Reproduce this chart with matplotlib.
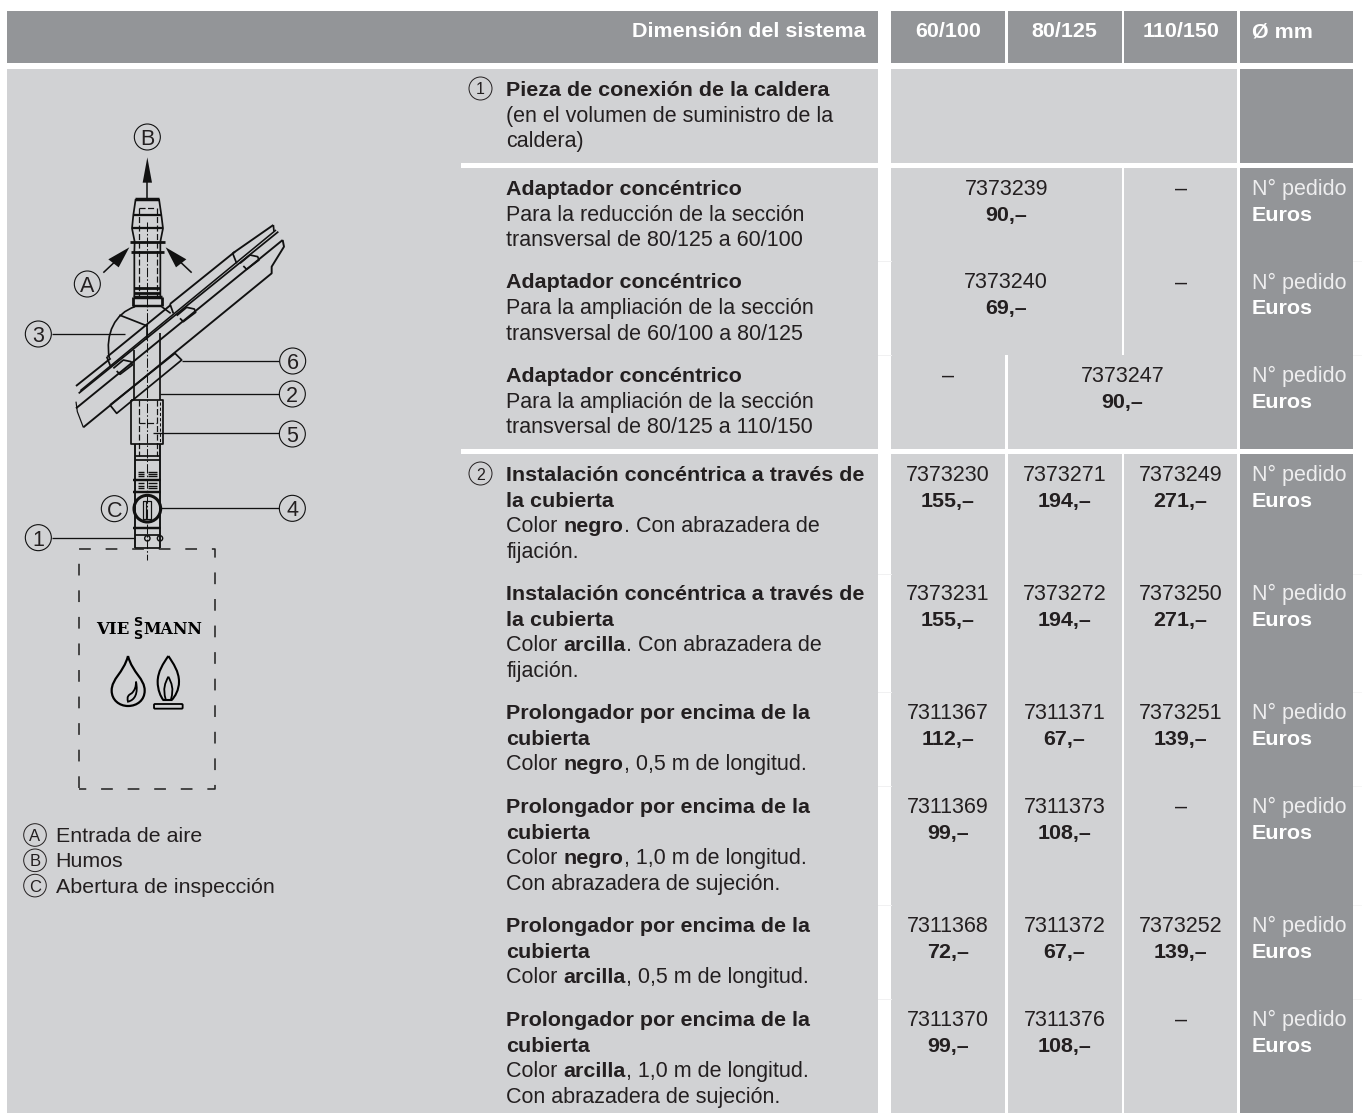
import re
import numpy as np
import matplotlib
matplotlib.use("Agg")
import matplotlib.pyplot as plt
from matplotlib.patches import Rectangle, Circle, PathPatch, Polygon, FancyBboxPatch
from matplotlib.path import Path

LIGHT = "#d1d2d4"
DARK = "#939598"
INK = "#231f20"
W, H = 1362, 1113

# ---------- table content ----------
header_title = "Dimensión del sistema"
header_cols = ["60/100", "80/125", "110/150"]
header_unit = "Ø mm"
unit_line1 = "N° pedido"
unit_line2 = "Euros"

descriptions = [
    ["**Pieza de conexión de la caldera**", "(en el volumen de suministro de la", "caldera)"],
    ["**Adaptador concéntrico**", "Para la reducción de la sección", "transversal de 80/125 a 60/100"],
    ["**Adaptador concéntrico**", "Para la ampliación de la sección", "transversal de 60/100 a 80/125"],
    ["**Adaptador concéntrico**", "Para la ampliación de la sección", "transversal de 80/125 a 110/150"],
    ["**Instalación concéntrica a través de**", "**la cubierta**", "Color **negro**. Con abrazadera de", "fijación."],
    ["**Instalación concéntrica a través de**", "**la cubierta**", "Color **arcilla**. Con abrazadera de", "fijación."],
    ["**Prolongador por encima de la**", "**cubierta**", "Color **negro**, 0,5 m de longitud."],
    ["**Prolongador por encima de la**", "**cubierta**", "Color **negro**, 1,0 m de longitud.", "Con abrazadera de sujeción."],
    ["**Prolongador por encima de la**", "**cubierta**", "Color **arcilla**, 0,5 m de longitud."],
    ["**Prolongador por encima de la**", "**cubierta**", "Color **arcilla**, 1,0 m de longitud.", "Con abrazadera de sujeción."],
]
row_baselines = [96, 195, 288.5, 382, 481, 600, 719, 813, 932, 1026]
row_markers = {0: "1", 4: "2"}

# (code, price, column span start, span length)
row_cells = [
    [],
    [("7373239", "90,–", 0, 2), ("–", "", 2, 1)],
    [("7373240", "69,–", 0, 2), ("–", "", 2, 1)],
    [("–", "", 0, 1), ("7373247", "90,–", 1, 2)],
    [("7373230", "155,–", 0, 1), ("7373271", "194,–", 1, 1), ("7373249", "271,–", 2, 1)],
    [("7373231", "155,–", 0, 1), ("7373272", "194,–", 1, 1), ("7373250", "271,–", 2, 1)],
    [("7311367", "112,–", 0, 1), ("7311371", "67,–", 1, 1), ("7373251", "139,–", 2, 1)],
    [("7311369", "99,–", 0, 1), ("7311373", "108,–", 1, 1), ("–", "", 2, 1)],
    [("7311368", "72,–", 0, 1), ("7311372", "67,–", 1, 1), ("7373252", "139,–", 2, 1)],
    [("7311370", "99,–", 0, 1), ("7311376", "108,–", 1, 1), ("–", "", 2, 1)],
]

legend_letters = ["A", "B", "C"]
legend_texts = ["Entrada de aire", "Humos", "Abertura de inspección"]

# ---------- layout ----------
FONT = "Liberation Sans"
FS = 15.5
BOLD_FS = 15.45
HEAD_FS = 15.45
LEG_FS = 15.4
LH = 25.6
LW = 1.25
col_edges = [(891, 1005), (1007.5, 1121.5), (1124, 1237.3)]
unit_col = (1240, 1353)
text_x = 506.5
unit_x = 1251.5

fig = plt.figure(figsize=(W / 100, H / 100), dpi=100, facecolor="white")
ax = fig.add_axes([0, 0, 1, 1])
ax.set_xlim(0, W)
ax.set_ylim(H, 0)
ax.axis("off")
rend = fig.canvas.get_renderer()


def rect(x0, y0, x1, y1, c, z=1):
    ax.add_patch(Rectangle((x0, y0), x1 - x0, y1 - y0, fc=c, ec="none", zorder=z))


def measure(s, weight, fs):
    a = ax.text(0, 0, "|" + s + "|", family=FONT, fontsize=fs, weight=weight)
    b = ax.text(0, 0, "||", family=FONT, fontsize=fs, weight=weight)
    w = a.get_window_extent(rend).width - b.get_window_extent(rend).width
    a.remove()
    b.remove()
    return w


def rich(x, y, s):
    for i, part in enumerate(re.split(r"\*\*", s)):
        if not part:
            continue
        wt = "bold" if i % 2 else "normal"
        fs = BOLD_FS if i % 2 else FS
        ax.text(x, y, part, family=FONT, fontsize=fs, weight=wt,
                color=INK, va="baseline", ha="left", zorder=5)
        x += measure(part, wt, fs)


# backgrounds
rect(7, 10.5, 877.5, 63, DARK)
for a, b in col_edges + [unit_col]:
    rect(a, 10.5, b, 63, DARK)
rect(7, 69, 461, 1113, LIGHT)
for y0, y1 in [(69, 162.5), (167.5, 449), (454, 1113)]:
    rect(461, y0, 877.5, y1, LIGHT)
    rect(891, y0, 1237.3, y1, LIGHT)
    rect(unit_col[0], y0, unit_col[1], y1, DARK)
# column separators
rect(1005, 454, 1007.5, 1113, "white", 2)
rect(1121.5, 454, 1124, 1113, "white", 2)
rect(1121.5, 167.5, 1124, 355, "white", 2)
rect(1005, 355, 1007.5, 449, "white", 2)
# faint guide lines in the gaps
for yy in [261, 355, 574, 692, 786, 905, 999]:
    ax.plot([877.5, 891], [yy, yy], color="#f1f1f2", lw=0.7, zorder=1)
    ax.plot([1353, 1362], [yy, yy], color="#f6f6f6", lw=0.7, zorder=1)

# header
ax.text(866, 37, header_title, family=FONT, fontsize=HEAD_FS, weight="bold", color="white",
        ha="right", va="baseline", zorder=5)
for (a, b), lab in zip(col_edges, header_cols):
    ax.text((a + b) / 2, 37, lab, family=FONT, fontsize=HEAD_FS, weight="bold", color="white",
            ha="center", va="baseline", zorder=5)
ax.text(unit_x, 37, header_unit, family=FONT, fontsize=HEAD_FS, weight="bold", color="white",
        ha="left", va="baseline", zorder=5)

# rows
for i, (desc, base, cells) in enumerate(zip(descriptions, row_baselines, row_cells)):
    for j, line in enumerate(desc):
        rich(text_x, base + j * LH, line)
    if i in row_markers:
        ax.add_patch(Circle((480.5, base - 7.5), 11.5, fc="none", ec=INK, lw=0.7, zorder=5))
        ax.text(480.5, base - 7.5, row_markers[i], family=FONT, fontsize=11.5, color=INK,
                ha="center", va="center_baseline", zorder=6)
    for code, price, start, span in cells:
        cx = (col_edges[start][0] + col_edges[start + span - 1][1]) / 2
        ax.text(cx, base, code, family=FONT, fontsize=FS, color=INK, ha="center", va="baseline", zorder=5)
        if price:
            ax.text(cx, base + LH, price, family=FONT, fontsize=BOLD_FS, weight="bold", color=INK,
                    ha="center", va="baseline", zorder=5)
    if i > 0:
        ax.text(unit_x, base, unit_line1, family=FONT, fontsize=FS, color="#eeeeef", va="baseline", zorder=5)
        ax.text(unit_x, base + LH, unit_line2, family=FONT, fontsize=BOLD_FS, weight="bold", color="white",
                va="baseline", zorder=5)

# legend
for k, (l, t) in enumerate(zip(legend_letters, legend_texts)):
    yc = 835 + k * 25.3
    ax.add_patch(Circle((35, yc), 11.3, fc="none", ec=INK, lw=0.7, zorder=5))
    ax.text(35, yc, l, family=FONT, fontsize=12, color=INK, ha="center", va="center_baseline", zorder=6)
    ax.text(55.5, yc + 7, t, family=FONT, fontsize=LEG_FS, color=INK, va="baseline", zorder=5)


# ---------- flue drawing (zoomed-crop coordinates -> page) ----------
def z1(p):
    return (p[0] / 3, 100 + p[1] / 3)


def z2(p):
    return (p[0] / 3, 530 + p[1] / 3)


def poly(pts, lw=1.0, ls="-", f=z1, c="#111111", zo=6):
    q = np.array([f(p) for p in pts])
    ax.plot(q[:, 0], q[:, 1], color=c, lw=lw * LW, ls=ls, zorder=zo, solid_capstyle="butt")


def circ(p, r=39, lw=0.8, f=z1, fc="none"):
    ax.add_patch(Circle(f(p), r / 3, fc=fc, ec="#111111", lw=lw, zorder=7))


def label(p, s, fs=15.5):
    circ(p)
    q = z1(p)
    ax.text(q[0], q[1], s, family=FONT, fontsize=fs, color=INK, ha="center", va="center_baseline", zorder=8)


for p, s in [((442, 111), "B"), ((262, 552), "A"), ((115, 702), "3"), ((878, 783), "6"),
             ((877, 882), "2"), ((877, 1002), "5"), ((877, 1225), "4"), ((343, 1226), "C"),
             ((115, 1313), "1")]:
    label(p, s)

# leaders
for seg in [[(155, 702), (375, 702)], [(545, 783), (838, 783)], [(480, 882), (838, 882)],
            [(460, 1000), (838, 1000)], [(482, 1225), (838, 1225)], [(155, 1313), (405, 1313)]]:
    poly(seg, 0.75)

# arrows
poly([(442, 300), (442, 240)], 0.9)
ax.add_patch(Polygon([z1(p) for p in [(442, 172), (456, 248), (428, 248)]], fc="#111111", ec="none", zorder=7))
poly([(310, 518), (345, 485)], 0.9)
poly([(575, 518), (540, 485)], 0.9)
ax.add_patch(Polygon([z1(p) for p in [(388, 442), (356, 502), (325, 478)]], fc="#111111", ec="none", zorder=7))
ax.add_patch(Polygon([z1(p) for p in [(497, 442), (559, 478), (528, 502)]], fc="#111111", ec="none", zorder=7))

# terminal
poly([(406, 297), (478, 297)], 2.0)
poly([(407, 297), (400, 345), (396, 385), (404, 425), (403, 456), (403, 590)], 1.0)
poly([(477, 297), (484, 345), (489, 385), (481, 425), (481, 456), (481, 590)], 1.0)
for a, b, y, lw in [(400, 484, 345, 1.3), (396, 489, 385, 1.3), (390, 494, 425, 1.6), (393, 491, 456, 1.6),
                    (403, 481, 565, 1.6), (403, 481, 580, 1.6), (400, 485, 590, 2.0), (400, 485, 618, 1.4)]:
    poly([(a, y), (b, y)], lw)
poly([(400, 590), (400, 618)], 1.6)
poly([(485, 590), (485, 618)], 1.6)
poly([(416, 325), (468, 325)], 0.7, (0, (5, 2)))
poly([(416, 325), (416, 590)], 0.7, (0, (5, 2)))
poly([(470, 325), (470, 590)], 0.7, (0, (5, 2)))
poly([(442, 365), (442, 1380)], 0.6, (0, (9, 2, 1.5, 2)))

# dome
dome = Path([z1(p) for p in [(328, 775), (315, 700), (345, 640), (405, 620), (485, 620), (512, 640)]],
            [Path.MOVETO, Path.CURVE4, Path.CURVE4, Path.CURVE4, Path.MOVETO, Path.LINETO])
ax.add_patch(PathPatch(dome, fc="none", ec="#111111", lw=1.2, zorder=6))
poly([(358, 645), (442, 678)], 1.0)
poly([(442, 678), (442, 720)], 1.0)

# roof
poly([(250, 982), (815, 520), (815, 500), (852, 440), (848, 420)], 1.1)
poly([(228, 925), (848, 420)], 1.1)
poly([(228, 905), (232, 935), (250, 982)], 0.7)
poly([(228, 858), (332, 775)], 1.1)
poly([(236, 880), (835, 395)], 1.0)
poly([(241, 872), (828, 390)], 0.9)
poly([(322, 770), (512, 615)], 1.1)
poly([(510, 612), (705, 455)], 1.1)
poly([(698, 460), (820, 375)], 1.1)
poly([(820, 375), (822, 395)], 1.0)
for a, b in [((320, 770), (332, 800)), ((510, 612), (520, 640)), ((698, 460), (710, 490))]:
    poly([a, b], 1.0)
for q in [(365, 795), (555, 637), (745, 480)]:
    x, y = q
    poly([(x - 25, y + 10), (x + 5, y - 15), (x + 28, y - 10), (x + 32, y), (x - 5, y + 28), (x - 15, y + 18)], 1.0)
poly([(330, 915), (525, 760), (545, 780), (350, 940), (330, 915)], 1.0)

# pipe below roof
poly([(403, 750), (403, 900)], 1.0)
poly([(481, 700), (481, 900)], 1.0)
poly([(394, 900), (490, 900), (490, 1033), (394, 1033), (394, 900)], 1.0)
poly([(416, 900), (416, 1068)], 0.7, (0, (5, 2)))
poly([(470, 900), (470, 1068)], 0.7, (0, (5, 2)))
poly([(416, 968), (470, 968)], 0.7, (0, (5, 2)))
poly([(481, 905), (481, 1033)], 0.6, (0, (3, 2)))
poly([(404, 1033), (404, 1345)], 1.1)
poly([(480, 1033), (480, 1345)], 1.1)
for a, b, y, lw in [(404, 480, 1068, 1.0), (404, 480, 1080, 1.0), (400, 484, 1140, 1.4), (400, 484, 1175, 1.4),
                    (400, 484, 1283, 1.4), (404, 480, 1305, 1.0), (404, 480, 1345, 1.0)]:
    poly([(a, y), (b, y)], lw)
for y in [1115, 1122, 1128, 1150, 1157, 1163]:
    poly([(414, y), (433, y)], 0.8)
    poly([(445, y), (470, y)], 0.8)
circ((442, 1226), 40, 2.2)
poly([(430, 1203), (452, 1203), (452, 1258), (430, 1258), (430, 1203)], 0.7)
poly([(437, 1203), (437, 1258)], 0.7)
circ((442, 1315), 8, 1.0)
circ((480, 1315), 8, 1.0)

# appliance outline: dash 15 px, gap 15 px
poly([(237, 775), (237, 57), (645, 57), (645, 778), (237, 778)], 0.9, (0, (7.5, 9.5)), z2, c="#222222")
ax.text(*z2((338, 292)), "VIE", family="DejaVu Serif", weight="bold", fontsize=12, color="black",
        ha="center", va="center_baseline", zorder=7)
ax.text(*z2((518, 292)), "MANN", family="DejaVu Serif", weight="bold", fontsize=11.4, color="black",
        ha="center", va="center_baseline", zorder=7)
ax.text(*z2((412, 272)), "S", family="DejaVu Sans", weight="bold", fontsize=9.3, color="black",
        ha="center", va="center_baseline", zorder=7)
ax.text(*z2((412, 311)), "S", family="DejaVu Sans", weight="bold", fontsize=9.3, color="black",
        ha="center", va="center_baseline", zorder=7)


def curve(pts, codes, lw=1.6):
    ax.add_patch(PathPatch(Path([z2(p) for p in pts], codes), fc="none", ec="black", lw=lw, zorder=7))


M, C, L = Path.MOVETO, Path.CURVE4, Path.LINETO
curve([(384, 378), (370, 430), (335, 445), (335, 482), (335, 510), (358, 528), (384, 528),
       (412, 528), (434, 510), (434, 482), (434, 445), (398, 430), (384, 378)], [M] + [C] * 12)
curve([(408, 455), (415, 490), (405, 510), (384, 515), (380, 500), (385, 495), (395, 490), (405, 480), (408, 470), (408, 455)],
      [M] + [C] * 9, 1.3)
curve([(505, 378), (490, 400), (473, 425), (473, 455), (473, 480), (482, 500), (490, 510),
       (515, 510), (525, 500), (537, 480), (537, 455), (537, 425), (520, 400), (505, 378)],
      [M, C, C, C, C, C, C, L, C, C, C, C, C, C], 1.5)
curve([(505, 440), (495, 460), (488, 475), (497, 508)], [M, C, C, C], 1.3)
curve([(505, 440), (515, 460), (522, 475), (513, 508)], [M, C, C, C], 1.3)
x0, y0 = z2((462, 522))
x1, y1 = z2((548, 536))
ax.add_patch(FancyBboxPatch((x0, y0), x1 - x0, y1 - y0, boxstyle="round,pad=0,rounding_size=1",
                            fc="none", ec="black", lw=1.3, zorder=7))

fig.savefig("out.png", dpi=100, facecolor="white")
